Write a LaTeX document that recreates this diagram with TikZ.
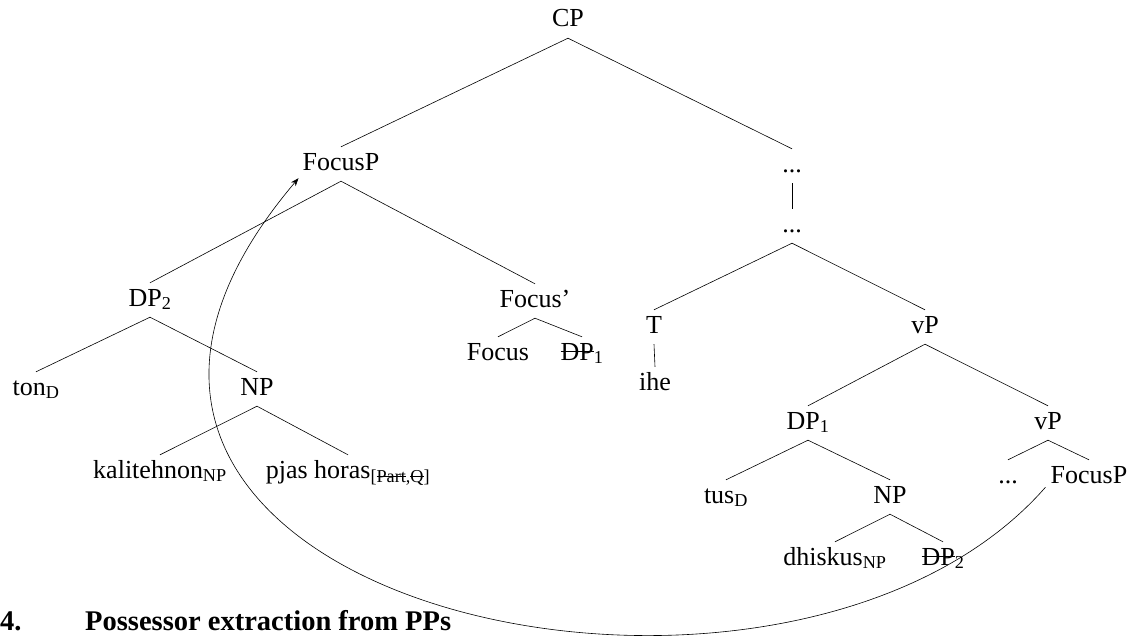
\documentclass[tikz,border=0pt]{standalone}
\usepackage{fontspec}
\setmainfont{Liberation Serif}
\usetikzlibrary{arrows.meta}
\newcommand{\strk}[1]{\setbox0\hbox{#1}\rlap{\rule[0.3em]{\wd0}{0.05em}}\box0}
\begin{document}
\begin{tikzpicture}[x=1pt,y=-1pt,
  tn/.style={anchor=base, inner sep=0pt, text height=23pt, text depth=11pt, font=\fontsize{26}{30}\selectfont},
  hd/.style={anchor=base west, inner sep=0pt, font=\bfseries\fontsize{28.5}{32}\selectfont},
  br/.style={line width=0.6pt},
  mv/.style={line width=0.6pt, -{Stealth[length=8pt,width=6pt]}}]
\useasboundingbox (0,0) rectangle (1136,637);
% nodes
\node[tn] (CP) at (568,27) {CP};
\node[tn] (FP) at (341,170) {FocusP};
\node[tn] (d1) at (792,172) {...};
\node[tn] (d2) at (792,232) {...};
\node[tn] (DPa) at (150,306) {DP\textsubscript{2}};
\node[tn] (Fb) at (535,307) {Focus'};
\node[tn] (T) at (654,333) {T};
\node[tn] (vP) at (925,333) {vP};
\node[tn] (ton) at (36,395) {ton\textsubscript{D}};
\node[tn] (NPa) at (257,395) {NP};
\node[tn] (Foc) at (498,360) {Focus};
\node[tn] (DPt) at (582,360) {\strk{DP}\textsubscript{1}};
\node[tn] (ihe) at (655,390) {ihe};
\node[tn] (DPb) at (808,429) {DP\textsubscript{1}};
\node[tn] (vPb) at (1048,429) {vP};
\node[tn] (kal) at (160,478) {kalitehnon\textsubscript{NP}};
\node[tn] (pjas) at (348,478) {pjas horas\textsubscript{[\strk{Part},\strk{Q}]}};
\node[tn] (d3) at (1008,483) {...};
\node[tn] (FPb) at (1089,483) {FocusP};
\node[tn] (tus) at (726,503) {tus\textsubscript{D}};
\node[tn] (NPb) at (890,503) {NP};
\node[tn] (dh) at (835,565) {dhiskus\textsubscript{NP}};
\node[tn] (DPs) at (943,565) {\strk{DP}\textsubscript{2}};
\node[hd] (h1) at (0,630) {4.};
\node[hd] (h2) at (85,630) {Possessor extraction from PPs};
% branches
\draw[br] (CP.south) -- (FP.north);
\draw[br] (CP.south) -- (d1.north);
\draw[br] (d1.south) -- (d2.north);
\draw[br] (FP.south) -- (DPa.north);
\draw[br] (FP.south) -- (Fb.north);
\draw[br] (d2.south) -- (T.north);
\draw[br] (d2.south) -- (vP.north);
\draw[br] (DPa.south) -- (ton.north);
\draw[br] (DPa.south) -- (NPa.north);
\draw[br] (Fb.south) -- (Foc.north);
\draw[br] (Fb.south) -- (DPt.north);
\draw[br] (T.south) -- (ihe.north);
\draw[br] (vP.south) -- (DPb.north);
\draw[br] (vP.south) -- (vPb.north);
\draw[br] (NPa.south) -- (kal.north);
\draw[br] (NPa.south) -- (pjas.north);
\draw[br] (DPb.south) -- (tus.north);
\draw[br] (DPb.south) -- (NPb.north);
\draw[br] (vPb.south) -- (d3.north);
\draw[br] (vPb.south) -- (FPb.north);
\draw[br] (NPb.south) -- (dh.north);
\draw[br] (NPb.south) -- (DPs.north);
% movement arrow
\draw[mv] ([shift={(-5,-7)}]FPb.south west) .. controls (780,790) and (-60,600) .. ([shift={(-4,-3)}]FP.south west);
\end{tikzpicture}
\end{document}
